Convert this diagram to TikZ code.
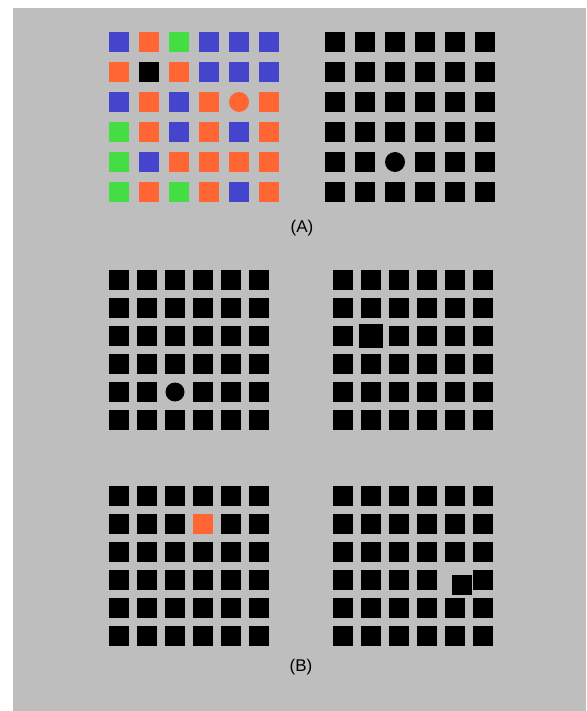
\documentclass[tikz,border=0pt]{standalone}
\usepackage{fontspec}
\setmainfont{Liberation Sans}
\usepackage{xcolor}
\usepackage{tikz}
\usetikzlibrary{positioning}
\definecolor{bggray}{HTML}{BEBEBE}
\definecolor{cblue}{HTML}{4444CC}
\definecolor{corange}{HTML}{FF6633}
\definecolor{cgreen}{HTML}{44DD44}

% 6x6 grid of black cells, one cell left out: x, y, pitch, row, col
\newcommand{\blackgrid}[5]{%
  \foreach \r in {0,...,5}{\foreach \c in {0,...,5}{%
    \ifnum\numexpr10*\r+\c\relax=\numexpr10*#4+#5\relax\else
      \fill[cell] ({#1+#3*\c}, {#2+#3*\r}) rectangle ++(20,20);
    \fi}}}

\begin{document}
\begin{tikzpicture}[x=0.03cm, y=-0.03cm, cell/.style={fill=black},
    caption/.style={font=\fontsize{14.5pt}{17pt}\selectfont}]
    \useasboundingbox (0,0) rectangle (586,711);
    \fill[white] (0,0) rectangle (586,711);
    \fill[bggray] (13,8) rectangle (586,711);

    % (A) left: coloured grid
    \foreach \r/\cols in {0/{cblue,corange,cgreen,cblue,cblue,cblue},
                          1/{corange,black,corange,cblue,cblue,cblue},
                          2/{cblue,corange,cblue,corange,none,corange},
                          3/{cgreen,corange,cblue,corange,cblue,corange},
                          4/{cgreen,cblue,corange,corange,corange,corange},
                          5/{cgreen,corange,cgreen,corange,cblue,corange}}{
      \foreach \col [count=\c from 0] in \cols
        \fill[fill=\col] ({109+30*\c}, {32+30*\r}) rectangle ++(20,20);
    }
    \fill[corange] (239,102) circle[radius=10];

    % (A) right: black grid with a dot
    \blackgrid{325}{32}{30}{4}{2}
    \fill[black] (395,162) circle[radius=10];

    \node[caption] (labA) at (302,228) {(A)};

    % (B) top left: dot
    \blackgrid{109}{270}{28}{4}{2}
    \fill[black] (175,392) circle[radius=9.5];

    % (B) top right: bigger cell
    \blackgrid{333}{270}{28}{2}{1}
    \fill[cell] (359,324) rectangle ++(24,24);

    % (B) bottom left: orange cell
    \blackgrid{109}{486}{28}{1}{3}
    \fill[corange] (193,514) rectangle ++(20,20);

    % (B) bottom right: shifted cell
    \blackgrid{333}{486}{28}{3}{4}
    \fill[cell] (452,575) rectangle ++(20,20);

    \node[caption] (labB) at (301,667) {(B)};
\end{tikzpicture}
\end{document}
